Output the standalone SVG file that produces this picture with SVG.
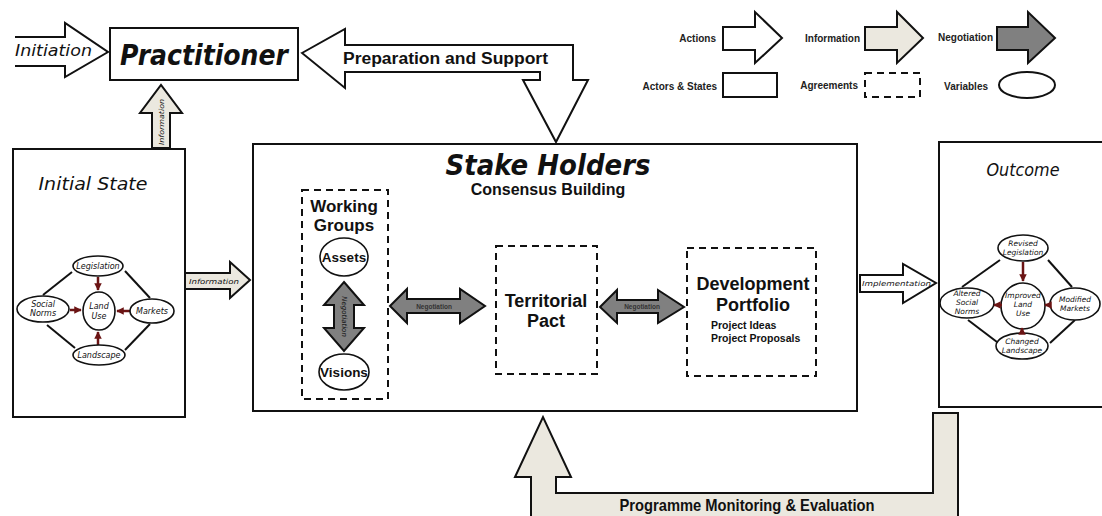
<svg xmlns="http://www.w3.org/2000/svg" width="1102" height="516" viewBox="0 0 1102 516">
<defs>
<style>
.box{fill:#fff;stroke:#111;stroke-width:2}
.dash{fill:#fff;stroke:#111;stroke-width:2;stroke-dasharray:7,5}
.act{fill:#fff;stroke:#111;stroke-width:2;stroke-linejoin:miter}
.info{fill:#ebe8df;stroke:#111;stroke-width:2;stroke-linejoin:miter}
.neg{fill:#808080;stroke:#111;stroke-width:2;stroke-linejoin:miter}
.var{fill:#fff;stroke:#111;stroke-width:1.6}
.lnk{stroke:#111;stroke-width:2;fill:none}
.red{stroke:#6b1414;stroke-width:2.5;fill:none;marker-end:url(#rh)}
.comic{font-family:"DejaVu Sans",sans-serif;font-style:italic;fill:#111}
.sans{font-family:"Liberation Sans",Arial,sans-serif;font-weight:bold;fill:#111}
.lg{font-family:"Liberation Sans",Arial,sans-serif;font-weight:bold;font-size:10px;fill:#222;text-anchor:end}
.tiny{font-family:"DejaVu Sans",sans-serif;font-style:italic;font-size:7px;fill:#111}
.v{font-family:"DejaVu Sans",sans-serif;font-style:italic;font-size:7px;fill:#111;text-anchor:middle}
</style>
<marker id="rh" viewBox="0 0 10 10" refX="9" refY="5" markerWidth="3" markerHeight="3" orient="auto" markerUnits="strokeWidth">
<path d="M0,0 L10,5 L0,10 Z" fill="#6b1414"/>
</marker>
</defs>
<rect width="1102" height="516" fill="#fff"/>

<!-- Legend -->
<g id="legend">
<text class="lg" x="716" y="42">Actions</text>
<path class="act" d="M723,27 L755,27 L755,12 L782,38 L755,63 L755,50 L723,50 Z"/>
<text class="lg" x="860" y="42">Information</text>
<path class="info" d="M865,27 L897,27 L897,12 L923,38 L897,63 L897,50 L865,50 Z"/>
<text class="lg" x="993" y="41">Negotiation</text>
<path class="neg" d="M997,27 L1028,27 L1028,12 L1055,38 L1028,63 L1028,50 L997,50 Z"/>
<text class="lg" x="717" y="90">Actors &amp; States</text>
<rect class="box" x="723" y="73" width="54" height="24"/>
<text class="lg" x="858" y="89">Agreements</text>
<rect class="dash" x="865" y="73" width="55" height="24" stroke-dasharray="5,4"/>
<text class="lg" x="988" y="90">Variables</text>
<ellipse class="box" cx="1027" cy="85" rx="28" ry="13"/>
</g>

<!-- Connectors -->
<g id="connectors">
<g id="initiation">
<path class="act" d="M15,37 L65,37 L65,23 L108,52 L65,77 L65,66 L15,66"/>
<text class="comic" x="15" y="56" font-size="16" textLength="77" lengthAdjust="spacingAndGlyphs">Initiation</text>
</g>
<g id="info-up">
<path class="info" d="M152,148 L152,113 L140,113 L161,85 L182,113 L170,113 L170,148 Z"/>
<text class="v" transform="translate(164,122) rotate(-90)" textLength="46" lengthAdjust="spacingAndGlyphs">Information</text>
</g>
<g id="prep-support">
<path class="act" d="M302,53 L345,29 L345,45 L573,45 L573,80 L588,80 L556,142 L523,80 L540,80 L540,72 L345,72 L345,88 Z"/>
<text class="sans" x="343" y="64" font-size="16" textLength="205" lengthAdjust="spacingAndGlyphs">Preparation and Support</text>
</g>
<g id="info-right">
<path class="info" d="M185,273 L230,273 L230,262 L250,280 L230,298 L230,289 L185,289 Z"/>
<text class="tiny" x="189" y="284" textLength="50" lengthAdjust="spacingAndGlyphs">Information</text>
</g>
<g id="implementation">
<path class="act" d="M860,275 L903,275 L903,264 L936,283 L903,303 L903,292 L860,292 Z"/>
<text class="tiny" x="862" y="286" textLength="69" lengthAdjust="spacingAndGlyphs">Implementation</text>
</g>
<g id="monitoring">
<path class="info" d="M531,518 L531,477 L515,477 L543,417 L571,477 L556,477 L556,493 L933,493 L933,413 L958,413 L958,518"/>
<text class="sans" x="747" y="511" font-size="17" text-anchor="middle" textLength="255" lengthAdjust="spacingAndGlyphs">Programme Monitoring &amp; Evaluation</text>
</g>
</g>

<!-- Practitioner -->
<g id="practitioner">
<rect class="box" x="110" y="28" width="188" height="52"/>
<text class="comic" x="204" y="65" font-size="29" font-weight="bold" text-anchor="middle" textLength="168" lengthAdjust="spacingAndGlyphs">Practitioner</text>
</g>

<!-- Initial State -->
<g id="initial-state">
<rect class="box" x="13" y="149" width="172" height="268"/>
<text class="comic" x="93" y="190" font-size="17" text-anchor="middle" textLength="109" lengthAdjust="spacingAndGlyphs">Initial State</text>
<line class="lnk" x1="72" y1="272" x2="43" y2="295"/>
<line class="lnk" x1="125" y1="271" x2="150" y2="298"/>
<line class="lnk" x1="47" y1="325" x2="75" y2="348"/>
<line class="lnk" x1="150" y1="324" x2="125" y2="350"/>
<line class="red" x1="98" y1="277" x2="98" y2="290"/>
<line class="red" x1="70" y1="310" x2="81" y2="310"/>
<line class="red" x1="130" y1="311" x2="117" y2="311"/>
<line class="red" x1="98" y1="345" x2="98" y2="332"/>
<ellipse class="var" cx="98" cy="266" rx="25" ry="10"/>
<text class="comic" x="98" y="269" font-size="8" text-anchor="middle">Legislation</text>
<ellipse class="var" cx="43" cy="309" rx="26" ry="13"/>
<text class="comic" x="43" y="307" font-size="8" text-anchor="middle">Social</text>
<text class="comic" x="43" y="316" font-size="8" text-anchor="middle">Norms</text>
<ellipse class="var" cx="99" cy="311" rx="16" ry="19"/>
<text class="comic" x="99" y="309" font-size="8" text-anchor="middle">Land</text>
<text class="comic" x="99" y="319" font-size="8" text-anchor="middle">Use</text>
<ellipse class="var" cx="152" cy="311" rx="22" ry="12"/>
<text class="comic" x="152" y="314" font-size="8" text-anchor="middle">Markets</text>
<ellipse class="var" cx="99" cy="355" rx="26" ry="10"/>
<text class="comic" x="99" y="358" font-size="8" text-anchor="middle">Landscape</text>
</g>

<!-- Stake Holders -->
<g id="stake-holders">
<rect class="box" x="253" y="144" width="604" height="267"/>
<text class="comic" x="548" y="175" font-size="28" font-weight="bold" text-anchor="middle" textLength="205" lengthAdjust="spacingAndGlyphs">Stake Holders</text>
<text class="sans" x="548" y="195" font-size="16" text-anchor="middle">Consensus Building</text>
</g>

<g id="working-groups">
<rect class="dash" x="302" y="190" width="86" height="209"/>
<text class="sans" x="344" y="212" font-size="17" text-anchor="middle">Working</text>
<text class="sans" x="344" y="231" font-size="17" text-anchor="middle">Groups</text>
<ellipse class="var" cx="344" cy="257" rx="24" ry="19"/>
<text class="sans" x="344" y="262" font-size="13.5" text-anchor="middle">Assets</text>
<path class="neg" d="M344,282 L364,305 L354,305 L354,328 L364,328 L344,351 L324,328 L334,328 L334,305 L324,305 Z"/>
<text class="v" transform="translate(342,316.5) rotate(90)" font-style="normal" font-size="6" fill="#333">Negotiation</text>
<ellipse class="var" cx="344" cy="372" rx="25" ry="18"/>
<text class="sans" x="344" y="377" font-size="13.5" text-anchor="middle">Visions</text>
</g>

<g id="neg-wg-tp">
<path class="neg" d="M390,306 L407,289 L407,299 L460,299 L460,289 L485,306 L460,323 L460,313 L407,313 L407,323 Z"/>
<text x="434" y="309" font-family="Liberation Sans,Arial,sans-serif" font-weight="bold" font-size="6.5" fill="#333" text-anchor="middle">Negotiation</text>
</g>

<g id="territorial-pact">
<rect class="dash" x="496" y="246" width="101" height="128"/>
<text class="sans" x="546" y="307" font-size="18" text-anchor="middle">Territorial</text>
<text class="sans" x="546" y="327" font-size="18" text-anchor="middle">Pact</text>
</g>

<g id="neg-tp-dp">
<path class="neg" d="M600,307 L617,290 L617,300 L658,300 L658,290 L684,307 L658,323 L658,313 L617,313 L617,323 Z"/>
<text x="642" y="309" font-family="Liberation Sans,Arial,sans-serif" font-weight="bold" font-size="6.5" fill="#333" text-anchor="middle">Negotiation</text>
</g>

<g id="development-portfolio">
<rect class="dash" x="687" y="248" width="129" height="128"/>
<text class="sans" x="753" y="290" font-size="18" text-anchor="middle">Development</text>
<text class="sans" x="753" y="311" font-size="18" text-anchor="middle">Portfolio</text>
<text class="sans" x="711" y="329" font-size="10.5">Project Ideas</text>
<text class="sans" x="711" y="342" font-size="10.5">Project Proposals</text>
</g>

<!-- Outcome -->
<g id="outcome">
<rect class="box" x="939" y="142" width="170" height="265"/>
<text class="comic" x="1023" y="176" font-size="18" text-anchor="middle" textLength="73" lengthAdjust="spacingAndGlyphs">Outcome</text>
<line class="lnk" x1="1000" y1="260" x2="962" y2="287"/>
<line class="lnk" x1="1048" y1="260" x2="1072" y2="287"/>
<line class="lnk" x1="968" y1="320" x2="997" y2="342"/>
<line class="lnk" x1="1075" y1="320" x2="1050" y2="343"/>
<ellipse class="var" cx="1023" cy="248" rx="25" ry="13"/>
<text class="comic" x="1023" y="246" font-size="7.5" text-anchor="middle">Revised</text>
<text class="comic" x="1023" y="255" font-size="7.5" text-anchor="middle">Legislation</text>
<ellipse class="var" cx="967" cy="303" rx="27" ry="15"/>
<text class="comic" x="967" y="296" font-size="7.5" text-anchor="middle">Altered</text>
<text class="comic" x="967" y="305" font-size="7.5" text-anchor="middle">Social</text>
<text class="comic" x="967" y="314" font-size="7.5" text-anchor="middle">Norms</text>
<ellipse class="var" cx="1023" cy="306" rx="22" ry="23"/>
<text class="comic" x="1023" y="298" font-size="7.5" text-anchor="middle">Improved</text>
<text class="comic" x="1023" y="307" font-size="7.5" text-anchor="middle">Land</text>
<text class="comic" x="1023" y="316" font-size="7.5" text-anchor="middle">Use</text>
<ellipse class="var" cx="1075" cy="304" rx="25" ry="16"/>
<text class="comic" x="1075" y="302" font-size="7.5" text-anchor="middle">Modified</text>
<text class="comic" x="1075" y="311" font-size="7.5" text-anchor="middle">Markets</text>
<ellipse class="var" cx="1022" cy="346" rx="26" ry="13"/>
<text class="comic" x="1022" y="344" font-size="7.5" text-anchor="middle">Changed</text>
<text class="comic" x="1022" y="353" font-size="7.5" text-anchor="middle">Landscape</text>
<line class="red" x1="1023" y1="262" x2="1023" y2="281"/>
<line class="red" x1="1002" y1="305" x2="994" y2="305"/>
<line class="red" x1="1051" y1="305" x2="1045" y2="305"/>
<line class="red" x1="1022" y1="334" x2="1022" y2="328"/>
</g>
</svg>
